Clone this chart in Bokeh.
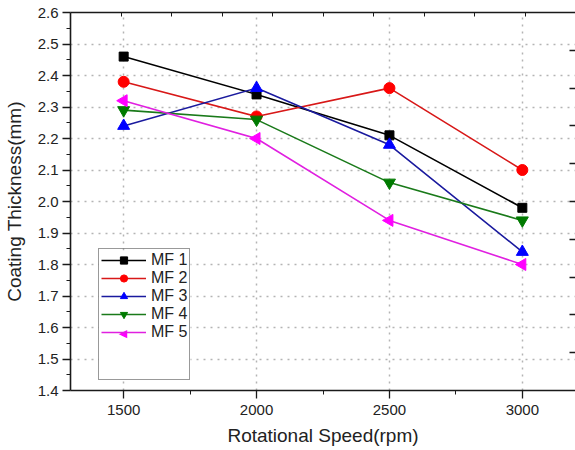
import numpy as np
from bokeh.plotting import figure
from bokeh.models import (FixedTicker, LinearAxis, Legend, LegendItem, Label, BoxAnnotation,
                          NumeralTickFormatter, CustomJSTickFormatter)
from bokeh.embed import file_html
from bokeh.resources import INLINE

# ---- data ----
speeds = [1500, 2000, 2500, 3000]
mf1 = [2.46, 2.34, 2.21, 1.98]
mf2 = [2.38, 2.27, 2.36, 2.10]
mf3 = [2.24, 2.36, 2.18, 1.84]
mf4 = [2.29, 2.26, 2.06, 1.94]
mf5 = [2.32, 2.20, 1.94, 1.80]
series_names = ["MF 1", "MF 2", "MF 3", "MF 4", "MF 5"]
y_ticks = [1.4, 1.5, 1.6, 1.7, 1.8, 1.9, 2.0, 2.1, 2.2, 2.3, 2.4, 2.5, 2.6]
y_minor = [1.45, 1.55, 1.65, 1.75, 1.85, 1.95, 2.05, 2.15, 2.25, 2.35, 2.45, 2.55]
x_ticks = [1500, 2000, 2500, 3000]
x_minor = [1750, 2250, 2750]

FONT = "Liberation Sans"
X0, X1 = 1300, 3200
Y0, Y1 = 1.4, 2.6

p = figure(width=575, height=450, x_range=(X0, X1), y_range=(Y0, Y1),
           output_backend="svg", toolbar_location=None,
           min_border_left=70, min_border_right=0, min_border_top=12,
           min_border_bottom=60)
p.outline_line_color = None
p.background_fill_color = "white"
p.border_fill_color = "white"

# grid
p.xgrid.ticker = FixedTicker(ticks=x_ticks)
p.ygrid.ticker = FixedTicker(ticks=y_ticks)
for g in (p.xgrid[0], p.ygrid[0]):
    g.grid_line_color = "#b4b4b4"
    g.grid_line_dash = "2 5"
    g.grid_line_width = 1.5

# bottom axis
xa = p.xaxis[0]
xa.ticker = FixedTicker(ticks=x_ticks, minor_ticks=x_minor)
xa.axis_label = "Rotational Speed(rpm)"
# left axis
ya = p.yaxis[0]
ya.ticker = FixedTicker(ticks=y_ticks, minor_ticks=y_minor)
ya.formatter = NumeralTickFormatter(format="0.0")
ya.axis_label = "Coating Thickness(mm)"
for ax in (xa, ya):
    ax.axis_line_color = "#1a1a1a"
    ax.axis_line_width = 1.6
    ax.major_tick_line_color = "#1a1a1a"
    ax.minor_tick_line_color = "#1a1a1a"
    ax.major_tick_line_width = 1.3
    ax.minor_tick_line_width = 1.0
    ax.major_tick_out = 8
    ax.major_tick_in = 0
    ax.minor_tick_out = 4
    ax.minor_tick_in = 0
    ax.major_label_text_font = FONT
    ax.major_label_text_font_size = "15px"
    ax.major_label_text_color = "#222222"
    ax.axis_label_text_font = FONT
    ax.axis_label_text_font_size = "19px"
    ax.axis_label_text_font_style = "normal"
    ax.axis_label_text_color = "#222222"
xa.major_label_standoff = 6
xa.axis_label_standoff = 7
ya.major_label_standoff = 4
ya.axis_label_standoff = 10

blank_fmt = CustomJSTickFormatter(code="return ''")

# top axis (decorative, 10 divisions)
top = LinearAxis(ticker=FixedTicker(ticks=list(np.linspace(X0, X1, 11)[1:-1]), minor_ticks=[]),
                 formatter=blank_fmt)
top.axis_line_color = "#1a1a1a"
top.axis_line_width = 1.6
top.major_tick_line_color = "#1a1a1a"
top.major_tick_in = 4
top.major_tick_out = 0
top.minor_tick_in = 0
top.minor_tick_out = 0
top.major_label_standoff = 0
p.add_layout(top, "above")

# right axis (decorative ticks only, 10 divisions)
right = LinearAxis(ticker=FixedTicker(ticks=list(np.linspace(Y0, Y1, 11)[1:-1]), minor_ticks=[]),
                   formatter=blank_fmt)
right.axis_line_color = None
right.major_tick_line_color = "#1a1a1a"
right.major_tick_line_width = 1.3
right.major_tick_in = 6
right.major_tick_out = 0
right.minor_tick_in = 0
right.minor_tick_out = 0
right.major_label_standoff = 0
p.add_layout(right, "right")

# series
data = [mf1, mf2, mf3, mf4, mf5]
line_colors = ["#000000", "#d81818", "#1a1a9e", "#1a7a1a", "#e020e0"]
mark_colors = ["#000000", "#ff0000", "#0000ff", "#007a00", "#ff00ff"]
markers = ["square", "circle", "triangle", "inverted_triangle", "triangle"]
angles = [0, 0, 0, 0, np.pi / 2]
sizes = [9, 11, 12, 12, 12]

LX, LY, PAD, ROW, GW, LW = 28, 10, 2, 18, 45, 92
N_ROWS = 7
legend_top = LY + 2 * PAD + N_ROWS * ROW

# white panel behind the (transparent) legend
p.add_layout(BoxAnnotation(left=LX, right=LX + LW, bottom=LY, top=legend_top,
                           left_units="screen", right_units="screen",
                           bottom_units="screen", top_units="screen",
                           fill_color="white", fill_alpha=1, line_color=None,
                           level="underlay"))

items = []
for name, ys, lc, mc, mk, ang, sz in zip(series_names, data, line_colors,
                                         mark_colors, markers, angles, sizes):
    lr = p.line(speeds, ys, line_color=lc, line_width=1.6)
    sr = p.scatter(speeds, ys, marker=mk, size=sz, angle=ang,
                   fill_color=mc, line_color=mc)
    # legends cannot rotate markers: the left-pointing one is added as a label
    rends = [lr, sr] if ang == 0 else [lr]
    items.append(LegendItem(label=name, renderers=rends))

# blank rows in legend
blank = p.line(speeds, mf1, line_alpha=0)
items.append(LegendItem(label=" ", renderers=[blank]))
items.append(LegendItem(label="  ", renderers=[blank]))

legend = Legend(items=items, location=(LX, LY))
legend.label_text_font = FONT
legend.label_text_font_size = "16px"
legend.label_text_color = "#222222"
legend.glyph_width = GW
legend.glyph_height = ROW
legend.label_height = ROW
legend.spacing = 0
legend.padding = PAD
legend.margin = 0
legend.label_standoff = 5
legend.border_line_color = "#333333"
legend.border_line_width = 1
legend.background_fill_alpha = 0
p.add_layout(legend)

# left-pointing marker in the MF 5 legend row
row5_center = legend_top - PAD - 4 * ROW - ROW / 2
tri = Label(x=LX + PAD + GW / 2, y=row5_center, x_units="screen", y_units="screen",
            text="\u25C0", text_font="DejaVu Sans", text_font_size="11px",
            text_color=mark_colors[4], text_align="center", text_baseline="middle",
            level="overlay")
p.add_layout(tri)

open("out.html", "w").write(file_html(p, INLINE))
